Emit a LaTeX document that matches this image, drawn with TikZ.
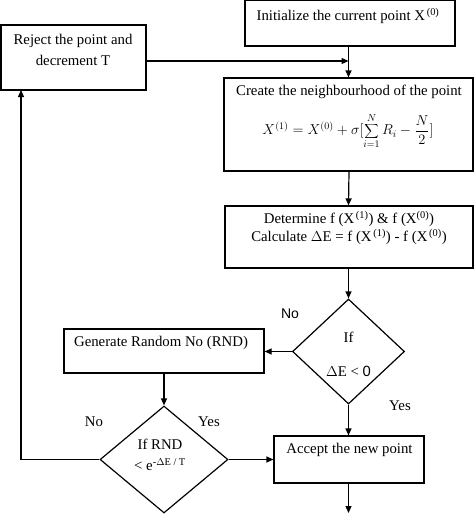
\documentclass[tikz,border=0pt]{standalone}
\usepackage{fontspec}
\setmainfont{Liberation Serif}
\newfontfamily\arialf{Liberation Sans}
\usetikzlibrary{arrows.meta,shapes.geometric}
\begin{document}
\begin{tikzpicture}[x=1pt,y=-1pt,
  box/.style={draw, line width=1.2pt, inner sep=0pt},
  dia/.style={draw, diamond, line width=1.2pt, inner sep=0pt},
  arr/.style={-{Triangle[length=7pt,width=6pt]}, line width=1.2pt},
  txt/.style={font=\fontsize{14.8}{21}\selectfont, inner sep=0pt, align=center}]
\useasboundingbox (0,0) rectangle (474,514);
% boxes
\node[box, minimum width=210pt, minimum height=46pt] (init) at (350,23) {};
\node[box, minimum width=145pt, minimum height=65pt] (reject) at (73.5,57.5) {};
\node[box, minimum width=249pt, minimum height=93pt] (create) at (348.5,124.5) {};
\node[box, minimum width=248pt, minimum height=62pt] (determine) at (349,237) {};
\node[dia, minimum width=112pt, minimum height=105pt] (d1) at (348.5,351.5) {};
\node[box, minimum width=200pt, minimum height=44pt] (generate) at (164,351) {};
\node[dia, minimum width=128pt, minimum height=107pt] (d2) at (164,459.5) {};
\node[box, minimum width=150pt, minimum height=47pt] (accept) at (349,459.5) {};
% texts
\node[txt] (tinit) at (348,16) {Initialize the current point X\textsuperscript{\,(0)}};
\node[txt] (trej) at (73,50) {Reject the point and\\decrement T};
\node[txt] (tcre) at (349,92) {Create the neighbourhood of the point};
\node[txt] (tform) at (348,131) {$X^{(1)} = X^{(0)} + \sigma[\displaystyle\sum_{i=1}^{N} R_i - \frac{N}{2}]$};
\node[txt] (tdet1) at (349,219) {Determine f (X\textsuperscript{\,(1)}) \& f (X\textsuperscript{(0)})};
\node[txt] (tdet2) at (349,237) {Calculate $\Delta$E = f (X\textsuperscript{\,(1)}) - f (X\textsuperscript{\,(0)})};
\node[txt] (tif1) at (348.5,337) {If};
\node[txt] (tde) at (348.5,371) {$\Delta$E < {\arialf 0}};
\node[txt] (tgen) at (161,343) {Generate Random No (RND)};
\node[txt] (tif2) at (160,444) {If RND};
\node[txt] (trnd) at (160,465) {< e\textsuperscript{-$\Delta$E / T}};
\node[txt] (tacc) at (349.5,450) {Accept the new point};
\node[txt, font=\arialf\fontsize{14}{16}\selectfont] (no1) at (290,314) {No};
\node[txt] (yes1) at (400,406) {Yes};
\node[txt] (no2) at (94,422) {No};
\node[txt] (yes2) at (209,422) {Yes};
% connectors
\coordinate (m) at (348.5,61);
\coordinate (rj) at (21,90);
\coordinate (bot) at (348.5,513);
\draw[arr] (init.south -| create.north) -- (create.north);
\draw[arr] (reject.east |- m) -- (m);
\draw[arr] (create.south -| determine.north) -- (determine.north -| create.south);
\draw[arr] (determine.south -| d1.north) -- (d1.north);
\draw[arr] (d1.west) -- (d1.west -| generate.east);
\draw[arr] (d1.south) -- (d1.south |- accept.north);
\draw[arr] (generate.south) -- (d2.north);
\draw[arr] (d2.east) -- (accept.west);
\draw[arr] (accept.south -| bot) -- (bot);
\draw[arr] (d2.west) -| (rj);
\end{tikzpicture}
\end{document}
